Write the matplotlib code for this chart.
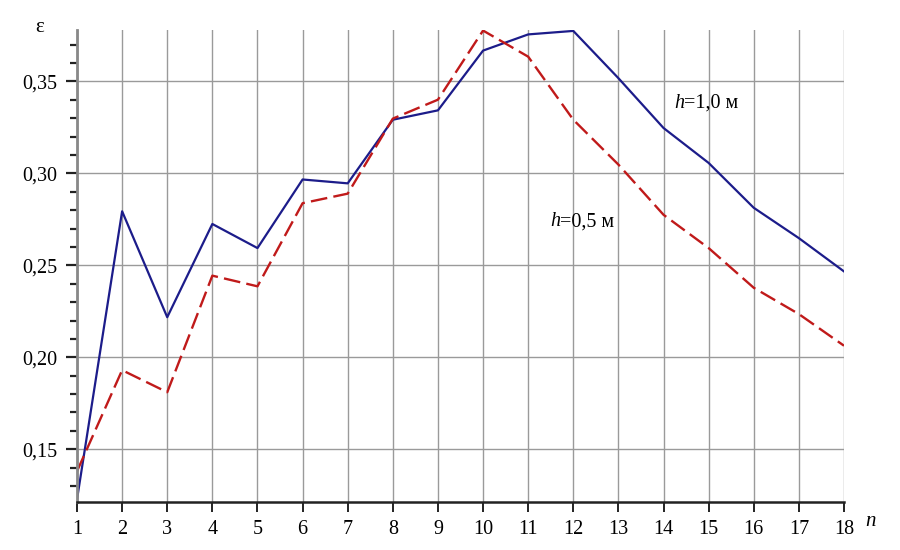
import matplotlib
matplotlib.use("Agg")
import matplotlib.pyplot as plt
from matplotlib.ticker import MultipleLocator, FuncFormatter

n = list(range(1, 19))
eps_h10 = [0.1227, 0.2794, 0.2218, 0.2725, 0.2594, 0.2967, 0.2946, 0.3292, 0.3343,
           0.3668, 0.3756, 0.3775, 0.3518, 0.3247, 0.3057, 0.2813, 0.2648, 0.2467]
eps_h05 = [0.1380, 0.1930, 0.1810, 0.2444, 0.2386, 0.2838, 0.2890, 0.3298, 0.3401,
           0.3777, 0.3635, 0.3292, 0.3048, 0.2775, 0.2594, 0.2378, 0.2235, 0.2063]
label_h10 = "=1,0 м"
label_h05 = "=0,5 м"

plt.rcParams['font.family'] = ['Liberation Serif', 'DejaVu Serif']
plt.rcParams['lines.scale_dashes'] = False

fig = plt.figure(figsize=(9, 5.5), dpi=100)
ax = fig.add_axes([77/900, 1-502/550, (844-77)/900, (502-30)/550])

ax.plot(n, eps_h10, color='#1c1c8a', lw=1.6)
ax.plot(n, eps_h05, color='#c01a1a', lw=1.7, dashes=(12, 4.5))

ax.set_xlim(1, 18)
ax.set_ylim(0.1213, 0.378)
ax.xaxis.set_major_locator(MultipleLocator(1))
ax.yaxis.set_major_locator(MultipleLocator(0.05))
ax.yaxis.set_minor_locator(MultipleLocator(0.01))
ax.yaxis.set_major_formatter(FuncFormatter(lambda v, p: f"{v:.2f}".replace('.', ',')))

ax.grid(True, which='major', color='#9a9a9a', lw=1.0)
ax.set_axisbelow(True)
for s in ['top', 'right']:
    ax.spines[s].set_visible(False)
ax.spines['left'].set_color('#888888')
ax.spines['left'].set_linewidth(2.0)
ax.spines['bottom'].set_color('#222222')
ax.spines['bottom'].set_linewidth(1.8)

ax.tick_params(axis='both', which='major', labelsize=14.5, direction='out', color='#222222')
ax.tick_params(axis='y', which='major', length=8, width=1.6, pad=6)
ax.tick_params(axis='y', which='minor', length=5, width=1.6, color='#222222')
ax.tick_params(axis='x', which='major', length=7, width=1.4, pad=6)

fig.text(40/900, 1-27/550, "ε", fontsize=15, ha='center', va='center')
fig.text(870/900, 1-522/550, "n", fontsize=15, style='italic', ha='center', va='center')

fig.text(674/900, 1-103/550, "h", fontsize=14.5, style='italic', ha='left', va='center')
fig.text(684/900, 1-103/550, label_h10, fontsize=14.5, ha='left', va='center')
fig.text(550/900, 1-222/550, "h", fontsize=14.5, style='italic', ha='left', va='center')
fig.text(560/900, 1-222/550, label_h05, fontsize=14.5, ha='left', va='center')

fig.savefig("out.png", dpi=100)
